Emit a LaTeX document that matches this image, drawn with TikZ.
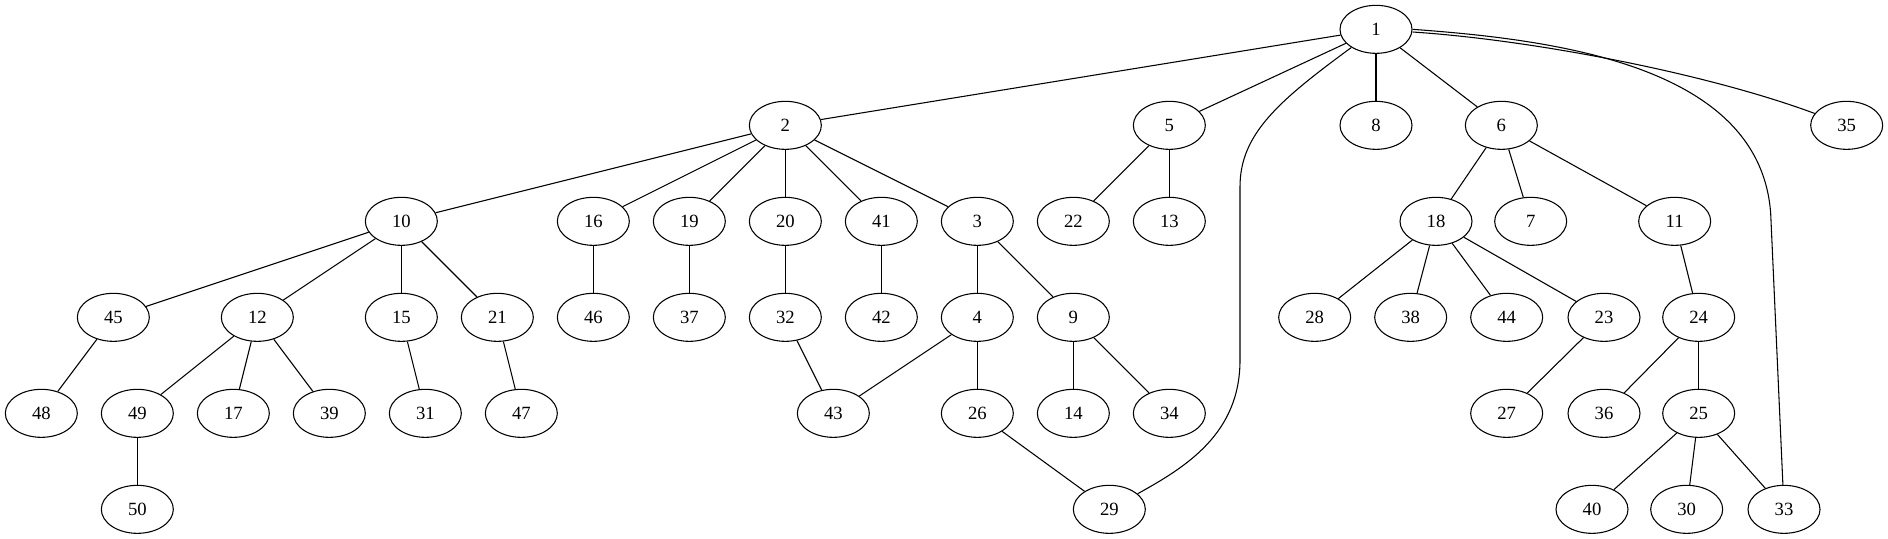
\documentclass[tikz,border=0pt]{standalone}
\usepackage{fontspec}
\setmainfont{Liberation Serif}
\usetikzlibrary{shapes.geometric}
\tikzset{vtx/.style={ellipse,draw,line width=0.8pt,minimum width=54pt,minimum height=36pt,inner sep=0pt,font=\fontsize{14}{16}\selectfont}}

\begin{document}
\begin{tikzpicture}[x=1pt,y=1pt,line width=0.8pt]
\useasboundingbox (0,0) rectangle (1416,-404);
\node (n1) at (1032,-22) [vtx] {1};

\node (n2) at (589,-94) [vtx] {2};
\node (n5) at (877,-94) [vtx] {5};
\node (n8) at (1032,-94) [vtx] {8};
\node (n6) at (1126,-94) [vtx] {6};
\node (n35) at (1385,-94) [vtx] {35};

\node (n10) at (301,-166) [vtx] {10};
\node (n16) at (445,-166) [vtx] {16};
\node (n19) at (517,-166) [vtx] {19};
\node (n20) at (589,-166) [vtx] {20};
\node (n41) at (661,-166) [vtx] {41};
\node (n3) at (733,-166) [vtx] {3};
\node (n22) at (805,-166) [vtx] {22};
\node (n13) at (877,-166) [vtx] {13};
\node (n18) at (1077,-166) [vtx] {18};
\node (n7) at (1148,-166) [vtx] {7};
\node (n11) at (1256,-166) [vtx] {11};

\node (n45) at (85,-238) [vtx] {45};
\node (n12) at (193,-238) [vtx] {12};
\node (n15) at (301,-238) [vtx] {15};
\node (n21) at (373,-238) [vtx] {21};
\node (n46) at (445,-238) [vtx] {46};
\node (n37) at (517,-238) [vtx] {37};
\node (n32) at (589,-238) [vtx] {32};
\node (n42) at (661,-238) [vtx] {42};
\node (n4) at (733,-238) [vtx] {4};
\node (n9) at (805,-238) [vtx] {9};
\node (n28) at (986,-238) [vtx] {28};
\node (n38) at (1058,-238) [vtx] {38};
\node (n44) at (1130,-238) [vtx] {44};
\node (n23) at (1203,-238) [vtx] {23};
\node (n24) at (1274,-238) [vtx] {24};

\node (n48) at (31,-310) [vtx] {48};
\node (n49) at (103,-310) [vtx] {49};
\node (n17) at (175,-310) [vtx] {17};
\node (n39) at (247,-310) [vtx] {39};
\node (n31) at (319,-310) [vtx] {31};
\node (n47) at (391,-310) [vtx] {47};
\node (n43) at (625,-310) [vtx] {43};
\node (n26) at (733,-310) [vtx] {26};
\node (n14) at (805,-310) [vtx] {14};
\node (n34) at (877,-310) [vtx] {34};
\node (n27) at (1130,-310) [vtx] {27};
\node (n36) at (1203,-310) [vtx] {36};
\node (n25) at (1274,-310) [vtx] {25};

\node (n50) at (103,-382) [vtx] {50};
\node (n29) at (832,-382) [vtx] {29};
\node (n40) at (1194,-382) [vtx] {40};
\node (n30) at (1265,-382) [vtx] {30};
\node (n33) at (1338,-382) [vtx] {33};

\draw [-] (n1) -- (n2);
\draw [-] (n1) -- (n5);
\draw [-] (n1) -- (n8);
\draw [-] (n1) -- (n6);
\draw [-] ([yshift=-2pt]n1.east) .. controls (1150,-30) and (1280,-55) .. (n35);
\draw [-] (n1) .. controls (960,-75) and (930,-100) .. (930,-140) -- (930,-270) .. controls (930,-325) and (890,-350) .. (n29);
\draw [-] (n1.east) .. controls (1170,-30) and (1320,-50) .. (1328,-160) -- (n33);

\draw [-] (n2) -- (n10);
\draw [-] (n2) -- (n16);
\draw [-] (n2) -- (n19);
\draw [-] (n2) -- (n20);
\draw [-] (n2) -- (n41);
\draw [-] (n2) -- (n3);
\draw [-] (n5) -- (n22);
\draw [-] (n5) -- (n13);
\draw [-] (n6) -- (n18);
\draw [-] (n6) -- (n7);
\draw [-] (n6) -- (n11);

\draw [-] (n10) -- (n45);
\draw [-] (n10) -- (n12);
\draw [-] (n10) -- (n15);
\draw [-] (n10) -- (n21);
\draw [-] (n16) -- (n46);
\draw [-] (n19) -- (n37);
\draw [-] (n20) -- (n32);
\draw [-] (n41) -- (n42);
\draw [-] (n3) -- (n4);
\draw [-] (n3) -- (n9);
\draw [-] (n18) -- (n28);
\draw [-] (n18) -- (n38);
\draw [-] (n18) -- (n44);
\draw [-] (n18) -- (n23);
\draw [-] (n11) -- (n24);

\draw [-] (n45) -- (n48);
\draw [-] (n12) -- (n49);
\draw [-] (n12) -- (n17);
\draw [-] (n12) -- (n39);
\draw [-] (n15) -- (n31);
\draw [-] (n21) -- (n47);
\draw [-] (n32) -- (n43);
\draw [-] (n4) -- (n43);
\draw [-] (n4) -- (n26);
\draw [-] (n9) -- (n14);
\draw [-] (n9) -- (n34);
\draw [-] (n23) -- (n27);
\draw [-] (n24) -- (n36);
\draw [-] (n24) -- (n25);

\draw [-] (n49) -- (n50);
\draw [-] (n26) -- (n29);
\draw [-] (n25) -- (n40);
\draw [-] (n25) -- (n30);
\draw [-] (n25) -- (n33);
\end{tikzpicture}
\end{document}
